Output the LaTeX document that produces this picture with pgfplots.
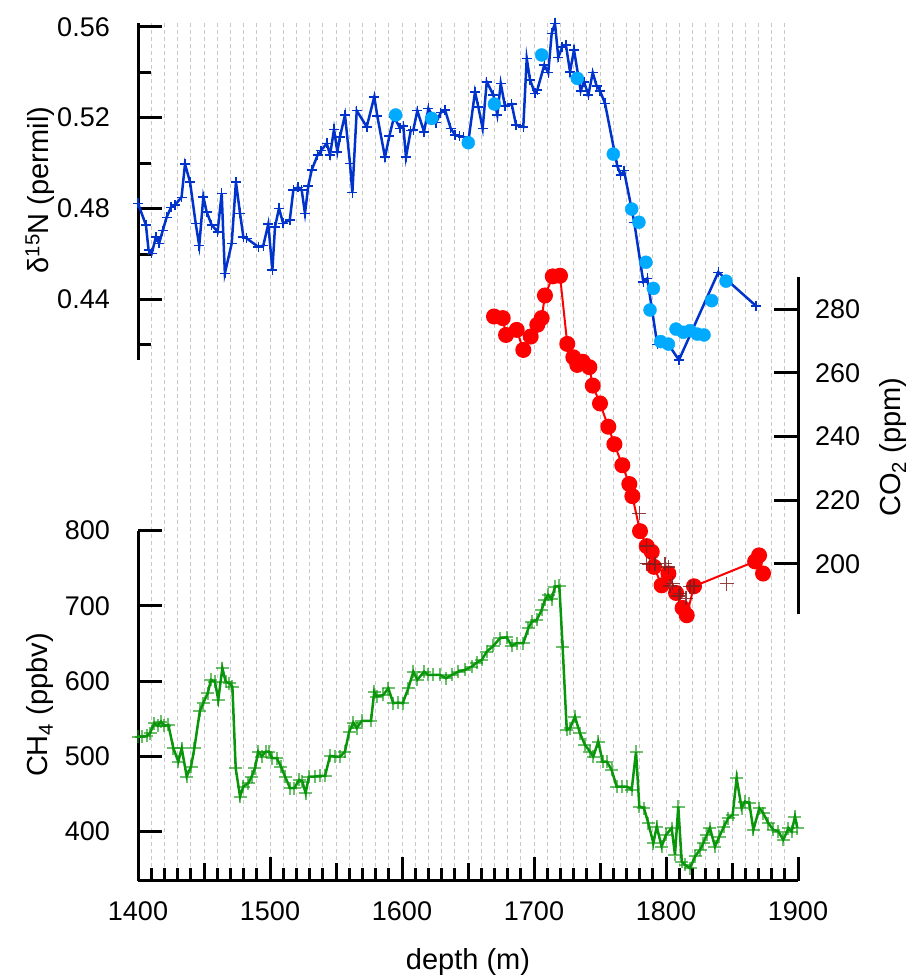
\documentclass[border=0pt]{standalone}
\usepackage{fontspec}
\setmainfont{Liberation Sans}
\usepackage{pgfplots}
\pgfplotsset{compat=1.18}

\definecolor{dnBlue}{RGB}{0,51,204}
\definecolor{dnSky}{RGB}{0,170,255}
\definecolor{coRed}{RGB}{255,0,0}
\definecolor{coDark}{RGB}{128,30,30}
\definecolor{chGreen}{RGB}{10,150,10}
\definecolor{gridGray}{RGB}{200,200,200}

\pgfplotsset{
  every tick label/.append style={font=\fontsize{27}{31}\selectfont},
  panel/.style={
    anchor=south west, scale only axis, width=660pt,
    xmin=1400, xmax=1900, clip=false,
  },
  plain lines/.style={
    every outer x axis line/.append style={-},
    every outer y axis line/.append style={-},
    every inner x axis line/.append style={-},
    every inner y axis line/.append style={-},
    axis line style={-, line width=3pt, black},
    tick style={line width=3pt, black},
    tick align=inside,
    major tick length=24pt, minor tick length=13pt,
  },
}

\begin{document}
\begin{tikzpicture}
\path[use as bounding box] (0pt,0pt) rectangle (913pt,978pt);

% background depth grid, every 10 m
\begin{axis}[anchor=south west, scale only axis, width=660pt, height=858.3pt,
  at={(138pt,97pt)}, xmin=1400, xmax=1900, ymin=0, ymax=1,
  xtick={1410,1420,...,1890}, xticklabels={}, ytick=\empty,
  xmajorgrids, major x grid style={gridGray, line width=1pt, dash pattern=on 4pt off 3pt},
  axis line style={draw=none}, tick style={draw=none}]
\end{axis}

% delta 15N
\begin{axis}[panel, at={(138pt,618pt)}, height=337.3pt,
  ymin=0.4134, ymax=0.5618,
  axis x line=none, axis y line=left, plain lines,
  ytick={0.44,0.48,0.52,0.56}, yticklabels={0.44,0.48,0.52,0.56},
  minor ytick={0.42,0.46,0.50,0.54},
  yticklabel style={inner sep=0pt, xshift=-28pt}]
\addplot[dnBlue, line width=2.5pt, mark=+, mark size=5pt,
  mark options={line width=1.5pt, solid}] coordinates {
(1400,0.4823) (1406,0.4728) (1408,0.4618) (1410.4,0.4603) (1413.6,0.4676)
(1416,0.4647) (1418.7,0.4703) (1421.7,0.4762) (1425,0.4806) (1428,0.4816)
(1433,0.4850) (1435.6,0.4996) (1439.4,0.4918) (1443.7,0.4735) (1446.4,0.4637)
(1449.5,0.4852) (1452,0.4786) (1455.8,0.4728) (1460.3,0.4698) (1463.4,0.4867)
(1465.8,0.4515) (1471,0.4647) (1474.2,0.4918) (1477.3,0.4779) (1479.8,0.4676)
(1482.3,0.4669) (1491.1,0.4632) (1494.9,0.4637) (1498.7,0.4732) (1501.8,0.4530)
(1503.8,0.4720) (1506.8,0.4801) (1510,0.4735) (1515,0.4750) (1517.7,0.4882)
(1521.4,0.4894) (1524,0.4882) (1526.5,0.4779) (1529,0.4900) (1531.6,0.4970)
(1536.1,0.5036) (1538.6,0.5055) (1543,0.5087) (1545.5,0.5036) (1548.5,0.5149)
(1551,0.5050) (1553,0.5116) (1556.8,0.5212) (1560.6,0.4999) (1562.4,0.4870)
(1565.7,0.5231) (1573.3,0.5160) (1579,0.5292) (1581.3,0.5207) (1587.1,0.5026)
(1590.4,0.5119) (1594,0.5204) (1598.5,0.5153) (1601,0.5163) (1603,0.5026)
(1606.6,0.5143) (1608.6,0.5146) (1611.6,0.5231) (1616.7,0.5138) (1620,0.5241)
(1625.8,0.5178) (1629.3,0.5222) (1632.6,0.5234) (1636.9,0.5153) (1640.2,0.5124)
(1643.4,0.5119) (1646.5,0.5116) (1650.2,0.5092) (1655.3,0.5314) (1657.8,0.5248)
(1661.1,0.5153) (1664.2,0.5358) (1669.2,0.5300) (1672.2,0.5212) (1674.8,0.5351)
(1678,0.5251) (1683.1,0.5260) (1686.4,0.5168) (1691.9,0.5160) (1694.5,0.5461)
(1697,0.5366) (1700.8,0.5307) (1702.5,0.5322) (1707.8,0.5432) (1710.8,0.5398)
(1713.4,0.5571) (1715.9,0.5615) (1718.4,0.5465) (1721.4,0.5512) (1724.2,0.5520)
(1727.3,0.5402) (1730.3,0.5498) (1735.4,0.5318) (1737.9,0.5358) (1741.2,0.5300)
(1744.5,0.5398) (1747.5,0.5339) (1750,0.5318) (1753.8,0.5263) (1763.1,0.4987)
(1765.7,0.4948) (1768.2,0.4967) (1776,0.4738) (1782.8,0.4478) (1785.8,0.4493)
(1793.4,0.4203) (1801,0.4210) (1809.8,0.4134) (1839.6,0.4520) (1868.2,0.4372)
};
\addplot[only marks, mark=*, mark size=6.5pt, dnSky,
  mark options={draw=none, fill=dnSky}] coordinates {
(1595.2,0.5212) (1622.5,0.5197) (1650.2,0.5090) (1670,0.5260) (1705.8,0.5476)
(1732.8,0.5373) (1760.1,0.5040) (1774,0.4798) (1779.5,0.4740) (1784.8,0.4564)
(1787.9,0.4354) (1790.4,0.4449) (1796,0.4215) (1801.8,0.4204) (1807.6,0.4270)
(1813.1,0.4256) (1818.2,0.4263) (1823.7,0.4248) (1828.8,0.4244) (1834.6,0.4395)
(1845.5,0.4481)
};
\end{axis}

% CO2
\begin{axis}[panel, at={(138pt,363.7pt)}, height=337.6pt,
  ymin=184.2, ymax=290.2,
  axis x line=none, axis y line=right, plain lines,
  ytick={200,220,240,260,280}, yticklabels={200,220,240,260,280},
  yticklabel style={inner sep=0pt, xshift=17pt}]
\addplot[coRed, line width=2pt, mark=*, mark size=7pt,
  mark options={draw=none, fill=coRed}] coordinates {
(1669.7,277.7) (1676.3,277.2) (1678.8,271.9) (1686.9,273.5) (1691.9,267.2)
(1697.5,271.4) (1702.5,275.1) (1705.8,277.2) (1708.3,284.3) (1714.2,290.3)
(1719.7,290.5) (1725.2,269.1) (1729.8,264.9) (1732.8,262.5) (1736.9,263.5)
(1741.9,261.8) (1744.5,256.0) (1750,250.4) (1756.3,243.1) (1760.9,237.6)
(1766.9,231.0) (1772.2,225.1) (1774.5,221.3) (1780.3,210.3) (1785.4,205.6)
(1789.2,203.8) (1790.9,199.1) (1796.7,193.3) (1801.8,197.0) (1807.6,190.9)
(1812.6,186.2) (1815.7,183.9) (1821.2,193.0) (1867.5,200.8) (1870.5,202.7)
(1873.5,197.0)
};
\addplot[only marks, mark=+, mark size=7pt, coDark,
  mark options={line width=1.5pt, opacity=0.85}] coordinates {
(1779.8,215.9) (1785.4,205.6) (1785.4,200.1) (1787.4,200.0) (1791.7,199.9)
(1799.2,200.1) (1801.8,199.1) (1803,193.1) (1805,193.9) (1809.3,190.0)
(1810.6,190.8) (1815.2,189.2) (1818.2,192.9) (1820.7,193.1) (1821.2,192.9)
(1845.9,193.8)
};
\end{axis}

% CH4
\begin{axis}[panel, at={(138pt,97pt)}, height=350.3pt,
  ymin=333.9, ymax=800,
  axis x line=bottom, axis y line=left, plain lines,
  ytick={400,500,600,700,800}, yticklabels={400,500,600,700,800},
  yticklabel style={inner sep=0pt, xshift=-28pt},
  xtick={1400,1500,...,1900}, xticklabels={1400,1500,1600,1700,1800,1900},
  minor xtick={1410,1420,...,1890},
  extra x ticks={1450,1550,1650,1750,1850}, extra x tick labels={},
  extra x tick style={major tick length=18pt},
  xticklabel style={inner sep=0pt, yshift=-20pt}]
\addplot[chGreen, line width=2.5pt, mark=+, mark size=6.5pt,
  mark options={line width=2pt, solid, opacity=0.6}] coordinates {
(1400,526) (1402.8,526) (1406.6,527) (1409.1,530.6) (1412.3,543.9)
(1414.9,540.3) (1417.4,546) (1419.9,540.3) (1423,541.6) (1426.8,510.6)
(1430.5,492.8) (1433.1,510.6) (1436.9,472.9) (1440.2,486.2) (1442.7,510.6)
(1446.9,560.6) (1449.4,570.5) (1452.8,583.8) (1455.3,601.5) (1458.3,599.2)
(1460.8,574.9) (1463.9,617) (1466.4,599.2) (1469.2,597.1) (1471.5,592.6)
(1474,484) (1477.3,446.3) (1479.8,459.6) (1483.6,464.1) (1486.1,472.9)
(1488.6,484) (1491.1,506.1) (1493.7,499.5) (1496.7,506.1) (1499.2,506.1)
(1501.7,497.3) (1505.1,497.3) (1508.3,486.2) (1511.4,472.9) (1515.2,457.4)
(1518.4,457.4) (1522,468.5) (1524.5,466.2) (1527,450.8) (1529.5,472.9)
(1534.1,472.9) (1537.9,473.8) (1541.7,473.8) (1545.5,500.4) (1549.2,499.5)
(1553,499.5) (1556.8,506.1) (1560,532.7) (1563.1,544.7) (1565.7,537.2)
(1569.5,546.9) (1576.5,546.9) (1579,585.9) (1580.8,579.3) (1585.8,581.5)
(1589.6,590.4) (1593.4,570.5) (1597.2,571.3) (1600.5,570.5) (1604.8,590.4)
(1608.6,612.5) (1611.6,601.5) (1616.7,612.5) (1620,608.1) (1623.7,608.1)
(1628.8,608.1) (1633.3,603.7) (1637.7,608.1) (1642.7,612.5) (1647.7,614.8)
(1652.8,619.1) (1656.6,624.5) (1660.4,628) (1664.2,639.1) (1669.2,646.7)
(1674.2,656.9) (1679.3,658.2) (1683.1,646.7) (1686.9,650.3) (1691.9,650.3)
(1695.7,670.2) (1698.3,679) (1702.1,681.3) (1705.8,694.5) (1708.3,707.9)
(1710.8,714.5) (1713.4,708.8) (1715.9,725.5) (1719.2,726.5) (1721.7,645)
(1724.8,535) (1727.3,537.2) (1731,552.7) (1734.8,530.6) (1738.6,515)
(1742.4,506) (1744.9,499.5) (1748.7,519.4) (1752,492.8) (1755.1,492.8)
(1758.8,481.8) (1762.6,459.6) (1766.4,459.6) (1770.2,459.6) (1774,455.2)
(1777.3,506) (1779.8,433) (1783.3,430.8) (1786.6,410.9) (1790.4,384.3)
(1793,406.4) (1796.7,379.8) (1800,395.3) (1804.3,404.3) (1806.8,368.7)
(1809.3,433) (1811.9,359.8) (1814.4,355.5) (1818.2,351) (1822,366.5)
(1825.8,375.4) (1828.3,384.3) (1830.8,395.3) (1833.3,404.3) (1837.1,379.8)
(1840.4,393.1) (1843.9,406.4) (1847.2,417.6) (1850.5,421.9) (1853.5,470.8)
(1857.3,430.8) (1859.8,439.6) (1863.1,437.5) (1866.2,402) (1870.7,430.8)
(1873.7,424.2) (1877.5,410.9) (1881.3,402) (1885.1,399.7) (1888.9,388.7)
(1892.7,404.3) (1895.2,399.7) (1897.7,419.7) (1899.5,404.3)
};
\end{axis}

\begin{scope}[font=\fontsize{29}{33}\selectfont]
\node[rotate=90] at (40pt,788pt) {δ\textsuperscript{15}N (permil)};
\node[rotate=90] at (40pt,273pt) {CH\textsubscript{4} (ppbv)};
\node[rotate=90] at (893pt,531pt) {CO\textsubscript{2} (ppm)};
\node at (468pt,16pt) {depth (m)};
\end{scope}
\end{tikzpicture}
\end{document}
